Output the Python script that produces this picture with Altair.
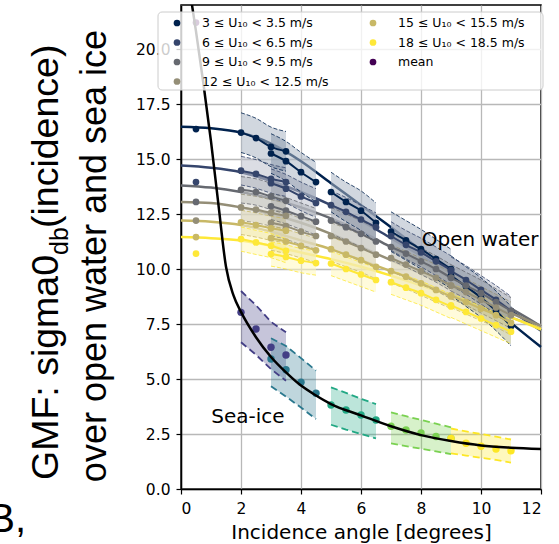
import altair as alt
import pandas as pd

# ---------------- data ----------------
WIND_LABELS = ["3 ≤ U₁₀ < 3.5 m/s", "6 ≤ U₁₀ < 6.5 m/s", "9 ≤ U₁₀ < 9.5 m/s",
               "12 ≤ U₁₀ < 12.5 m/s", "15 ≤ U₁₀ < 15.5 m/s", "18 ≤ U₁₀ < 18.5 m/s"]
WIND_COLORS = ["#00224e", "#35456c", "#666970", "#948e77", "#c8b866", "#fee838"]
MEAN_LABEL = "mean"
MEAN_COLOR = "#440154"

CURVE_X = [0, 1, 2, 3, 4, 5, 6, 7, 8, 9, 10, 11, 12]
CURVE_3 = [16.47, 16.4, 16.2, 15.7, 14.9, 13.9, 12.9, 11.9, 10.85, 9.8, 8.7, 7.55, 6.45]
CURVE_6 = [14.7, 14.6, 14.4, 14.0, 13.5, 12.9, 12.2, 11.4, 10.6, 9.8, 9.0, 8.1, 7.2]
CURVE_9 = [13.8, 13.7, 13.5, 13.2, 12.8, 12.3, 11.7, 11.0, 10.3, 9.6, 8.9, 8.2, 7.4]
CURVE_12 = [13.05, 13.0, 12.8, 12.5, 12.1, 11.6, 11.0, 10.4, 9.8, 9.2, 8.6, 8.0, 7.4]
CURVE_15 = [12.2, 12.15, 12.0, 11.7, 11.3, 10.9, 10.4, 9.9, 9.4, 8.8, 8.3, 7.8, 7.3]
CURVE_18 = [11.45, 11.4, 11.3, 11.05, 10.75, 10.45, 10.1, 9.7, 9.25, 8.8, 8.3, 7.8, 7.25]
CURVES = [CURVE_3, CURVE_6, CURVE_9, CURVE_12, CURVE_15, CURVE_18]

NADIR_X = 0.5
NADIR_Y = [16.36, 13.95, 13.05, 12.2, 11.45, 10.7]
MEAN_X = 0.5
MEAN_Y = 21.2

SEG_X = [[2, 2.5, 3, 3.5], [3, 3.5, 4, 4.5], [5, 5.5, 6, 6.5],
         [7, 7.5, 8, 8.5, 9], [9, 9.5, 10, 10.5, 11]]
SEG_3 = [[16.2, 15.95, 15.55, 15.35], [15.25, 14.9, 14.4, 13.95], [13.5, 13.05, 12.65, 12.1],
         [11.7, 11.3, 10.9, 10.45, 10.0], [9.7, 9.2, 8.7, 8.1, 7.4]]
SEG_6 = [[14.47, 14.32, 14.1, 13.95], [13.9, 13.65, 13.3, 13.0], [12.9, 12.6, 12.25, 11.9],
         [11.5, 11.1, 10.75, 10.35, 9.95], [9.9, 9.5, 9.05, 8.6, 8.1]]
SEG_9 = [[13.6, 13.5, 13.3, 13.1], [12.85, 12.65, 12.4, 12.15], [12.2, 11.9, 11.6, 11.25],
         [11.0, 10.7, 10.35, 10.0, 9.6], [9.6, 9.25, 8.9, 8.5, 8.1]]
SEG_12 = [[12.8, 12.7, 12.55, 12.42], [12.1, 11.95, 11.7, 11.5], [11.5, 11.25, 10.95, 10.65],
          [10.5, 10.2, 9.9, 9.6, 9.25], [9.25, 8.95, 8.6, 8.25, 7.9]]
SEG_15 = [[12.12, 12.0, 11.85, 11.74], [11.4, 11.25, 11.05, 10.85], [10.9, 10.65, 10.4, 10.1],
          [9.9, 9.65, 9.35, 9.05, 8.75], [8.8, 8.5, 8.2, 7.9, 7.55]]
SEG_18 = [[11.36, 11.21, 11.06, 10.83], [10.68, 10.55, 10.38, 10.27], [10.25, 10.0, 9.75, 9.5],
          [9.4, 9.15, 8.9, 8.6, 8.3], [8.35, 8.05, 7.75, 7.45, 7.15]]
SEGS = [SEG_3, SEG_6, SEG_9, SEG_12, SEG_15, SEG_18]
BAND_HALF = [0.9, 0.65, 0.6, 0.6, 0.55, 0.55]

ICE_CURVE_X = [0.3, 0.5, 0.75, 1.0, 1.25, 1.5, 1.75, 2.0, 2.5, 3.0, 3.5, 4.0, 4.5, 5.0,
               6.0, 7.0, 8.0, 9.0, 10.0, 11.0, 12.0]
ICE_CURVE_Y = [22.6, 20.8, 18.4, 15.8, 12.9, 10.1, 8.8, 8.05, 6.9, 6.0, 5.3, 4.7, 4.25, 3.86,
               3.35, 2.85, 2.45, 2.18, 1.98, 1.88, 1.82]
ICE_SEG_X = [[2, 2.5, 3, 3.5], [3, 3.5, 4, 4.5], [5, 5.5, 6, 6.5],
             [7, 7.5, 8, 8.5, 9], [9, 9.5, 10, 10.5, 11]]
ICE_SEG_Y = [[8.03, 7.27, 6.44, 6.09], [5.91, 5.42, 4.85, 4.35], [3.82, 3.59, 3.36, 3.14],
             [2.85, 2.68, 2.55, 2.39, 2.3], [2.3, 2.08, 1.94, 1.82, 1.74]]
ICE_SEG_LO = [[6.67, 6.1, 5.45, 4.92], [4.67, 4.2, 3.7, 3.18], [2.92, 2.7, 2.5, 2.3],
              [2.07, 1.95, 1.83, 1.71, 1.59], [1.62, 1.52, 1.42, 1.32, 1.2]]
ICE_SEG_HI = [[9.0, 8.35, 7.6, 7.12], [6.85, 6.5, 5.95, 5.38], [4.62, 4.37, 4.1, 3.86],
              [3.48, 3.31, 3.14, 2.97, 2.8], [2.75, 2.62, 2.5, 2.38, 2.25]]
ICE_COLORS = ["#433e85", "#2a788e", "#22a884", "#7ad151", "#fde725"]

Y_TICKS = [0, 2.5, 5, 7.5, 10, 12.5, 15, 17.5, 20]
X_TICKS = [0, 2, 4, 6, 8, 10, 12]

# ---------------- tables ----------------
curve_rows = []
for wi, ys in enumerate(CURVES):
    for x, y in zip(CURVE_X, ys):
        curve_rows.append({"c": WIND_COLORS[wi], "g": wi, "x": x, "y": y})
curves_df = pd.DataFrame(curve_rows)

seg_rows = []
for wi, segs in enumerate(SEGS):
    for si, (xs, ys) in enumerate(zip(SEG_X, segs)):
        for x, y in zip(xs, ys):
            seg_rows.append({"c": WIND_COLORS[wi], "g": f"{wi}-{si}",
                             "x": x, "y": y, "lo": y - BAND_HALF[wi], "hi": y + BAND_HALF[wi]})
seg_df = pd.DataFrame(seg_rows)

pt_rows = [{"c": r["c"], "x": r["x"], "y": r["y"]} for r in seg_rows]
for c, y in zip(WIND_COLORS, NADIR_Y):
    pt_rows.append({"c": c, "x": NADIR_X, "y": y})
pt_rows.append({"c": MEAN_COLOR, "x": MEAN_X, "y": MEAN_Y})
pts_df = pd.DataFrame(pt_rows)

ice_curve_df = pd.DataFrame({"x": ICE_CURVE_X, "y": ICE_CURVE_Y})
ice_rows = []
for si, (xs, ys, los, his) in enumerate(zip(ICE_SEG_X, ICE_SEG_Y, ICE_SEG_LO, ICE_SEG_HI)):
    for x, y, lo, hi in zip(xs, ys, los, his):
        ice_rows.append({"g": si, "c": ICE_COLORS[si], "x": x, "y": y, "lo": lo, "hi": hi})
ice_df = pd.DataFrame(ice_rows)

LEG_LABELS = WIND_LABELS + [MEAN_LABEL]
LEG_COLORS = WIND_COLORS + [MEAN_COLOR]

# ---------------- encodings ----------------
xs = alt.Scale(domain=[0, 12], nice=False)
ys = alt.Scale(domain=[0, 22], nice=False)
X = alt.X("x:Q", scale=xs, axis=alt.Axis(values=X_TICKS, format="d", title="Incidence angle [degrees]",
                                         labelPadding=7, titlePadding=6))
YAX = alt.Axis(values=Y_TICKS, format=".1f", title=None, labelPadding=6)
Y = alt.Y("y:Q", scale=ys, axis=YAX)
Ylo = alt.Y("lo:Q", scale=ys, axis=YAX)
Yhi = alt.Y("hi:Q", scale=ys, axis=YAX)
CD = alt.Color("c:N", scale=None)

curves = alt.Chart(curves_df).mark_line(strokeWidth=2.5, interpolate="monotone").encode(
    x=X, y=Y, color=CD, detail="g:N")
wash = alt.Chart(seg_df).mark_area(color="white", opacity=0.45, interpolate="monotone").encode(
    x=X, y=Ylo, y2="hi:Q", detail="g:N")
tint = alt.Chart(seg_df).mark_area(opacity=0.18, interpolate="monotone").encode(
    x=X, y=Ylo, y2="hi:Q", color=CD, detail="g:N")
edge_lo = alt.Chart(seg_df).mark_line(strokeWidth=1, strokeDash=[4, 2], opacity=0.8,
                                      interpolate="monotone").encode(
    x=X, y=Ylo, color=CD, detail="g:N")
edge_hi = alt.Chart(seg_df).mark_line(strokeWidth=1, strokeDash=[4, 2], opacity=0.8,
                                      interpolate="monotone").encode(
    x=X, y=Yhi, color=CD, detail="g:N")
seg_lines = alt.Chart(seg_df).mark_line(strokeWidth=2, interpolate="monotone").encode(
    x=X, y=Y, color=CD, detail="g:N")
points = alt.Chart(pts_df).mark_circle(size=45, opacity=1).encode(x=X, y=Y, color=CD)

ice_band = alt.Chart(ice_df).mark_area(opacity=0.3).encode(
    x=X, y=Ylo, y2="hi:Q", color=CD, detail="g:N")
ice_lo = alt.Chart(ice_df).mark_line(strokeWidth=1.8, strokeDash=[7, 4]).encode(
    x=X, y=Ylo, color=CD, detail="g:N")
ice_hi = alt.Chart(ice_df).mark_line(strokeWidth=1.8, strokeDash=[7, 4]).encode(
    x=X, y=Yhi, color=CD, detail="g:N")
ice_pts = alt.Chart(ice_df).mark_circle(size=55, opacity=1).encode(x=X, y=Y, color=CD)
ice_curve = alt.Chart(ice_curve_df).mark_line(color="black", strokeWidth=2.5, clip=True,
                                              interpolate="monotone").encode(x=X, y=Y)

ann_df = pd.DataFrame({"x": [9.97, 2.23], "y": [11.32, 3.27], "t": ["Open water", "Sea-ice"]})
ann = alt.Chart(ann_df).mark_text(font="DejaVu Sans", fontSize=20, color="black",
                                  baseline="middle", align="center").encode(x=X, y=Y, text="t:N")

one = pd.DataFrame({"a": [0]})
leg_box = alt.Chart(one).mark_rect(fill="white", fillOpacity=0.8, stroke="#cccccc",
                                   strokeWidth=1, cornerRadius=4).encode(
    x=alt.value(-23), x2=alt.value(362), y=alt.value(7), y2=alt.value(85))

# legend entries laid out in two columns (column-major, 4 rows)
leg_layers = []
for i, (lab, col) in enumerate(zip(LEG_LABELS, LEG_COLORS)):
    cix, rix = (0, i) if i < 4 else (1, i - 4)
    sx = -4 + cix * 196
    sy = 18 + rix * 19.5
    leg_layers.append(alt.Chart(one).mark_circle(size=45, opacity=1, color=col).encode(
        x=alt.value(sx), y=alt.value(sy)))
    leg_layers.append(alt.Chart(one).mark_text(text=lab, font="DejaVu Sans", fontSize=12.5,
                                               color="black", align="left",
                                               baseline="middle").encode(
        x=alt.value(sx + 25), y=alt.value(sy)))

FONT = "Liberation Sans"
yl2 = alt.Chart(one).mark_text(text="over open water and sea ice", font=FONT, fontSize=36,
                               angle=270, align="center", baseline="alphabetic",
                               color="black").encode(x=alt.value(-75), y=alt.value(251))
yl1a = alt.Chart(one).mark_text(text="GMF: sigma0", font=FONT, fontSize=37.5, angle=270,
                                align="left", baseline="alphabetic", color="black").encode(
    x=alt.value(-123), y=alt.value(475))
yl1b = alt.Chart(one).mark_text(text="db", font=FONT, fontSize=25, angle=270,
                                align="left", baseline="alphabetic", color="black").encode(
    x=alt.value(-113), y=alt.value(250))
yl1c = alt.Chart(one).mark_text(text="(incidence)", font=FONT, fontSize=37.5, angle=270,
                                align="left", baseline="alphabetic", color="black").encode(
    x=alt.value(-123), y=alt.value(223))
bfrag = alt.Chart(one).mark_text(text="B,", font=FONT, fontSize=40, align="right",
                                 baseline="alphabetic", color="black").encode(
    x=alt.value(-155), y=alt.value(527))

chart = alt.layer(
    curves, wash, tint, edge_lo, edge_hi, seg_lines, points,
    ice_band, ice_lo, ice_hi, ice_pts, ice_curve, ann, leg_box, *leg_layers,
    yl2, yl1a, yl1b, yl1c, bfrag
).properties(
    width=360, height=484,
    autosize=alt.AutoSizeParams(type="none"),
    padding={"left": 181, "top": 5, "right": 18, "bottom": 55},
).configure_view(
    stroke="black", strokeWidth=1.5
).configure_axis(
    labelFont="DejaVu Sans", labelFontSize=15.5, labelColor="black",
    tickColor="black", tickSize=5, tickWidth=1.2,
    domainColor="black", domainWidth=1.5,
    gridColor="#b8b8b8", gridWidth=1.3,
    titleFont="DejaVu Sans", titleFontSize=20, titleFontWeight="normal", titleColor="black"
)

chart.save("out.html", embed_options={"renderer": "svg", "actions": False})
